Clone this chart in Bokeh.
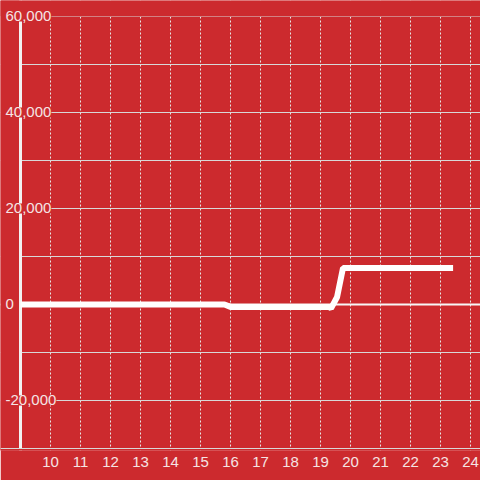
from bokeh.plotting import figure
from bokeh.models import (ColumnDataSource, FixedTicker, SingleIntervalTicker,
                          LabelSet, Grid, Range1d, BoxAnnotation)
from bokeh.embed import file_html
from bokeh.resources import INLINE
from bokeh.core.properties import value

# ---- data ----
x_values = [9.0, 15.8, 16.0, 19.28, 19.35, 19.55, 19.75, 23.42]
y_values = [0, 0, -500, -500, -800, 1500, 7600, 7600]

x_ticks = [10, 11, 12, 13, 14, 15, 16, 17, 18, 19, 20, 21, 22, 23, 24]
y_label_ticks = [-20000, 0, 20000, 40000, 60000]
y_labels = ["-20,000", "0", "20,000", "40,000", "60,000"]

x_axis_pos = 9            # where the y axis sits
y_top = 60000             # top of the value axis
y_bottom = -30000         # bottom of the value axis
x_start, x_end = 8.3333, 24.3333
y_start, y_end = -30417, 63333.3
grid_interval = 10000

BG = "#cc2a2e"
TXT = "#f5e4e4"
FONT = "Liberation Sans"

p = figure(width=480, height=480, output_backend="svg", toolbar_location=None,
           x_range=Range1d(x_start, x_end), y_range=Range1d(y_start, y_end),
           min_border_left=0, min_border_right=0, min_border_top=0,
           min_border_bottom=30,
           background_fill_color=BG, border_fill_color=BG,
           outline_line_color=None)

p.yaxis.visible = False

# x axis
p.xaxis.ticker = FixedTicker(ticks=x_ticks)
p.xaxis.major_tick_in = 0
p.xaxis.major_tick_out = 0
p.xaxis.minor_tick_in = 0
p.xaxis.minor_tick_out = 0
p.xaxis.axis_line_color = None
p.xaxis.major_label_text_font_size = "15px"
p.xaxis.major_label_text_color = TXT
p.xaxis.major_label_text_font = FONT
p.xaxis.major_label_standoff = 6

# grids
p.xgrid.grid_line_color = "#e6e6e6"
p.xgrid.grid_line_dash = "2 2"
p.xgrid.grid_line_width = 1
p.ygrid.ticker = SingleIntervalTicker(interval=grid_interval)
p.ygrid.grid_line_color = "#d8d8d8"
p.ygrid.grid_line_width = 1

zero_grid = Grid(dimension=1, ticker=FixedTicker(ticks=[0]),
                 grid_line_color="#f7f7f7", grid_line_width=2)
p.add_layout(zero_grid)

# nothing of the grid left of the y axis
p.add_layout(BoxAnnotation(right=x_axis_pos, fill_color=BG, fill_alpha=1,
                           line_color=None, level="underlay"))

# y axis line
p.add_layout(Grid(dimension=0, ticker=FixedTicker(ticks=[x_axis_pos]),
                  grid_line_color="#f2f2f2", grid_line_width=3))

# nothing above the top / below the bottom of the value axis
p.add_layout(BoxAnnotation(bottom=y_top, fill_color=BG, fill_alpha=1,
                           line_color=None, level="underlay"))
p.add_layout(BoxAnnotation(top=y_bottom, fill_color=BG, fill_alpha=1,
                           line_color=None, level="underlay"))

# bottom axis line
p.add_layout(Grid(dimension=1, ticker=FixedTicker(ticks=[y_bottom]),
                  grid_line_color="#d8d8d8", grid_line_width=1))

# data line
p.line(x_values, y_values, line_color="white", line_width=6)

# y labels with background
lab_src = ColumnDataSource(dict(x=[x_axis_pos] * len(y_label_ticks),
                                y=y_label_ticks, text=y_labels))
labels = LabelSet(x="x", y="y", text="text", source=lab_src,
                  x_offset=-15, text_align="left", text_baseline="middle",
                  text_font_size="15px", text_color=TXT,
                  text_font=value(FONT),
                  background_fill_color=BG)
p.add_layout(labels)

open("out.html", "w").write(file_html(p, INLINE))
